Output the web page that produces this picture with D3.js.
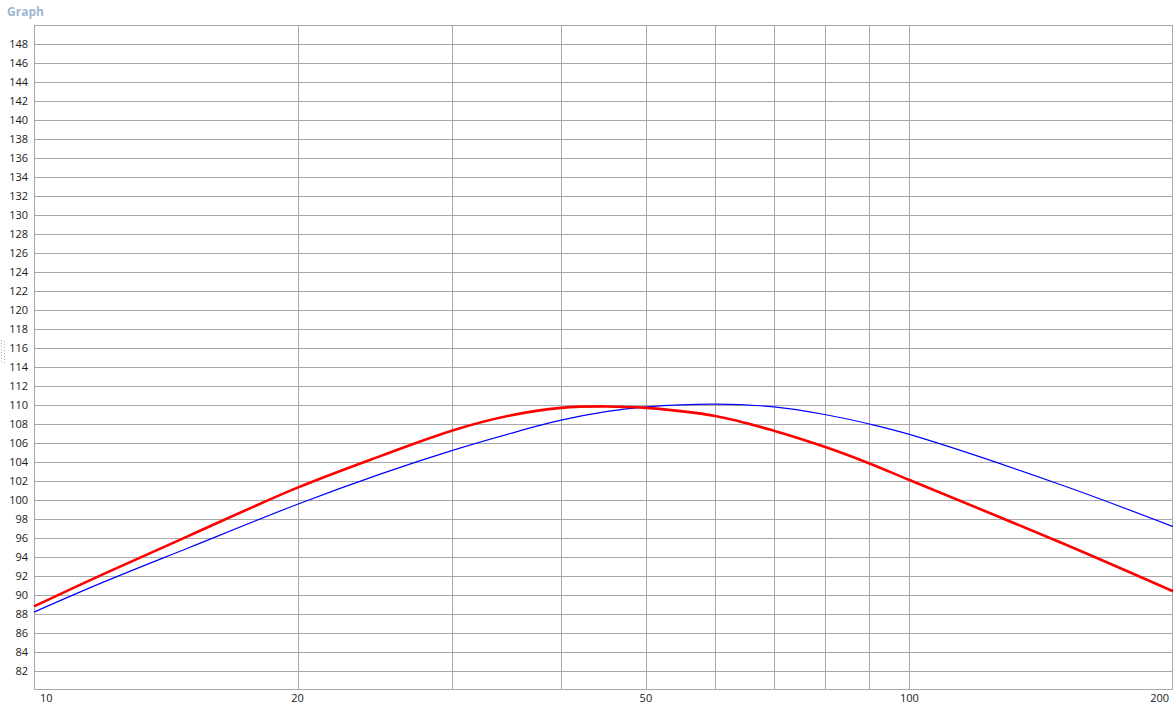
<!DOCTYPE html>
<html>
<head>
<meta charset="utf-8">
<script src="https://cdn.jsdelivr.net/npm/d3@7"></script>
<style>
  body { margin: 0; background: #fff; }
  svg { display: block; font-family: "Segoe UI", "Open Sans", "DejaVu Sans", sans-serif; }
</style>
</head>
<body>
<svg id="chart" width="1176" height="716"></svg>
<script>
"use strict";

// frequencies
var freqs = [10, 12, 15, 20, 25, 30, 35, 40, 45, 50, 60, 70, 80, 90, 100, 150, 200];
// thick red series
var redVals = [88.8, 92.2, 96.2, 101.3, 104.7, 107.3, 108.9, 109.7, 109.85, 109.7, 108.85, 107.3, 105.6, 103.85, 102.1, 95.4, 90.4];
// thin blue series
var blueVals = [88.2, 91.35, 94.95, 99.55, 102.8, 105.2, 107.0, 108.4, 109.3, 109.8, 110.1, 109.8, 109.0, 108.0, 106.9, 101.5, 97.2];

var xGrid = [20, 30, 40, 50, 60, 70, 80, 90, 100];
var xLabels = [10, 20, 50, 100, 200];
var yTicks = d3.range(82, 149, 2);

var svg = d3.select("#chart");
var plotL = 34, plotR = 1173, plotT = 25, plotB = 690;

var x = d3.scaleLog().domain([10, 200]).range([plotL, plotR]);
var y = d3.scaleLinear().domain([80, 150]).range([plotB, plotT]);

svg.append("text")
  .attr("x", 7).attr("y", 16)
  .style("font-size", "12px").style("font-weight", "bold")
  .attr("fill", "#9fb6d3")
  .text("Graph");

// splitter grip dots on the left edge
svg.append("g").selectAll("rect").data(d3.range(8)).enter().append("rect")
  .attr("x", 1).attr("y", d => 340 + d * 3).attr("width", 1).attr("height", 1)
  .attr("fill", "#b0b0b0");
svg.append("g").selectAll("rect").data(d3.range(8)).enter().append("rect")
  .attr("x", 4).attr("y", d => 341 + d * 3).attr("width", 1).attr("height", 1)
  .attr("fill", "#b0b0b0");

var grid = svg.append("g").attr("stroke", "#a8a8a8").attr("stroke-width", 1);

grid.selectAll("line.h").data(yTicks).enter().append("line")
  .attr("class", "h")
  .attr("x1", plotL).attr("x2", plotR)
  .attr("y1", d => Math.round(y(d)) + 0.5).attr("y2", d => Math.round(y(d)) + 0.5);

grid.selectAll("line.v").data(xGrid).enter().append("line")
  .attr("class", "v")
  .attr("y1", plotT).attr("y2", plotB)
  .attr("x1", d => Math.round(x(d)) + 0.5).attr("x2", d => Math.round(x(d)) + 0.5);

svg.append("rect")
  .attr("x", plotL + 0.5).attr("y", plotT + 0.5)
  .attr("width", plotR - plotL - 1).attr("height", plotB - plotT - 1)
  .attr("fill", "none").attr("stroke", "#a8a8a8");

svg.append("g").selectAll("text").data(yTicks).enter().append("text")
  .attr("x", 28).attr("y", d => y(d) + 4)
  .attr("text-anchor", "end")
  .style("font-size", "11px").attr("fill", "#1a1a1a")
  .text(d => d);

svg.append("g").selectAll("text").data(xLabels).enter().append("text")
  .attr("x", d => d === 10 ? x(d) + 6 : d === 200 ? x(d) - 4 : x(d))
  .attr("y", 702)
  .attr("text-anchor", d => d === 10 ? "start" : d === 200 ? "end" : "middle")
  .style("font-size", "11px").attr("fill", "#1a1a1a")
  .text(d => d);

var line = vals => d3.line()
  .x((d, i) => x(freqs[i]))
  .y(d => y(d))
  .curve(d3.curveCatmullRom.alpha(0.5))(vals);

svg.append("path").attr("d", line(blueVals))
  .attr("fill", "none").attr("stroke", "#0000ff").attr("stroke-width", 1.2);
svg.append("path").attr("d", line(redVals))
  .attr("fill", "none").attr("stroke", "#ff0000").attr("stroke-width", 2.6);
</script>
</body>
</html>
